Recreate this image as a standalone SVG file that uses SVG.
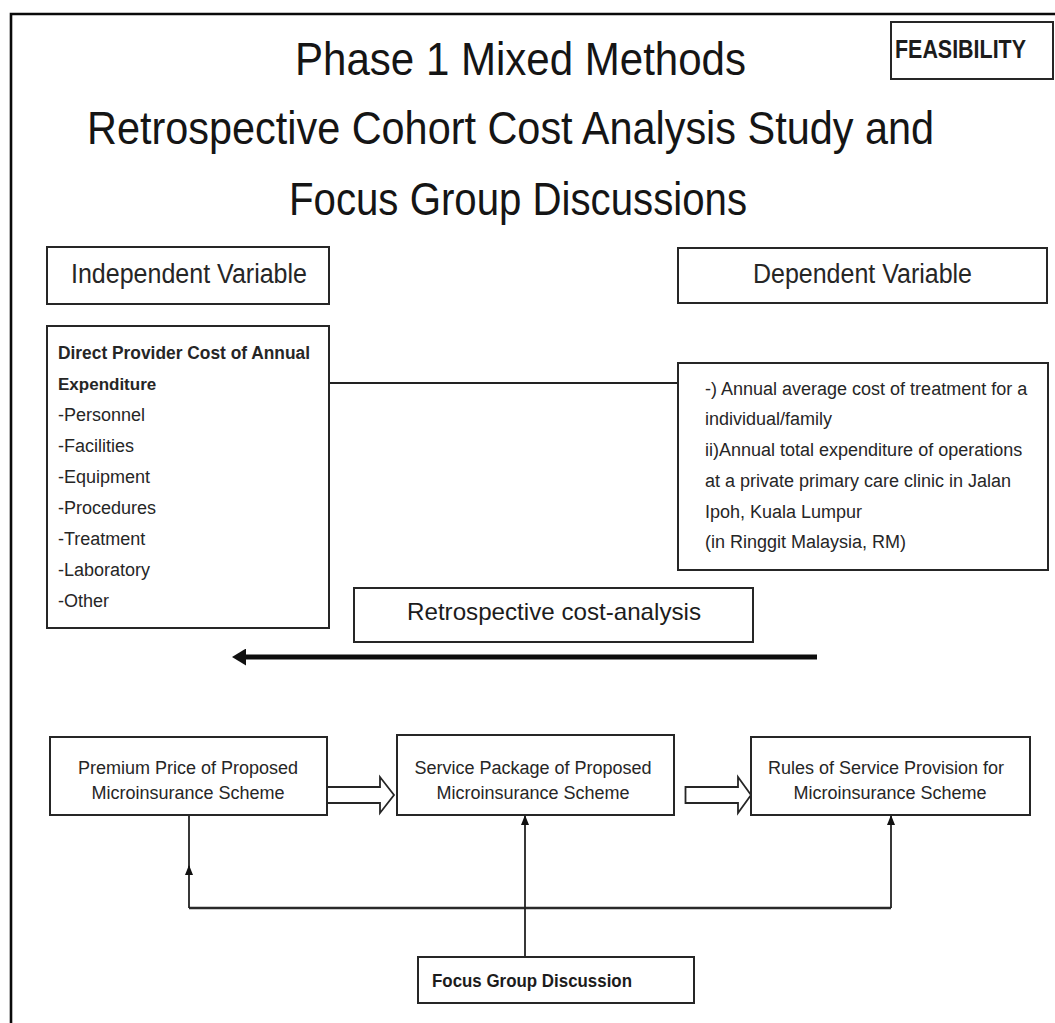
<svg xmlns="http://www.w3.org/2000/svg" width="1055" height="1023" viewBox="0 0 1055 1023">
  <style>
    text { font-family: "Liberation Sans", Arial, sans-serif; fill: #1c1c1c; }
    .title { font-size: 46px; fill: #151515; }
    .head { font-size: 27px; fill: #262626; }
    .body { font-size: 18px; fill: #262626; }
    .bold { font-weight: bold; }
    .mid { text-anchor: middle; }
    .box { fill: #ffffff; stroke: #262626; stroke-width: 2; }
    .wire { fill: none; stroke: #222222; stroke-width: 1.8; }
    .block { fill: #ffffff; stroke: #262626; stroke-width: 1.8; stroke-linejoin: miter; }
  </style>
  <defs>
    <marker id="bigHead" viewBox="0 0 14 17" refX="1" refY="8.5" markerWidth="14" markerHeight="17" markerUnits="userSpaceOnUse" orient="auto">
      <path d="M0,0 L14,8.5 L0,17 Z" fill="#111111"/>
    </marker>
    <marker id="smallHead" viewBox="0 0 10 8" refX="9" refY="4" markerWidth="10" markerHeight="8" markerUnits="userSpaceOnUse" orient="auto">
      <path d="M0,0 L10,4 L0,8 Z" fill="#111111"/>
    </marker>
  </defs>

  <rect x="0" y="0" width="1055" height="1023" fill="#ffffff"/>

  <!-- page frame -->
  <path d="M11,1023 V14 H1055" fill="none" stroke="#0a0a0a" stroke-width="2.6"/>

  <!-- heading -->
  <g id="heading">
    <text class="title" x="295" y="75" textLength="451" lengthAdjust="spacingAndGlyphs">Phase 1 Mixed Methods</text>
    <text class="title" x="87" y="144" textLength="847" lengthAdjust="spacingAndGlyphs">Retrospective Cohort Cost Analysis Study and</text>
    <text class="title" x="289" y="215" textLength="458" lengthAdjust="spacingAndGlyphs">Focus Group Discussions</text>
  </g>

  <g id="feasibility">
    <rect class="box" x="891" y="22" width="162" height="57"/>
    <text class="bold" x="895" y="58" font-size="25" textLength="131" lengthAdjust="spacingAndGlyphs" fill="#1e1e30">FEASIBILITY</text>
  </g>

  <!-- connectors -->
  <g id="connectors">
    <line class="wire" x1="329" y1="383" x2="678" y2="383"/>
    <line x1="817" y1="657" x2="245" y2="657" stroke="#0d0d0d" stroke-width="5" marker-end="url(#bigHead)"/>
    <!-- hollow block arrows between the scheme boxes -->
    <path class="block" d="M327,787 H380 V777 L394,795 L380,813 V803 H327"/>
    <path class="block" d="M685.5,787 H738 V777 L751,795 L738,813 V803 H685.5 Z"/>
    <!-- feedback from focus group -->
    <line x1="189" y1="908" x2="891" y2="908" stroke="#2a2a2a" stroke-width="2.6"/>
    <line class="wire" x1="189" y1="908" x2="189" y2="815"/>
    <line class="wire" x1="189" y1="875" x2="189" y2="866" marker-end="url(#smallHead)"/>
    <line class="wire" x1="525" y1="957" x2="525" y2="816" marker-end="url(#smallHead)"/>
    <line class="wire" x1="891" y1="908" x2="891" y2="816" marker-end="url(#smallHead)"/>
  </g>

  <g id="independent-variable">
    <rect class="box" x="47" y="247" width="282" height="57"/>
    <text class="head" x="71" y="283" textLength="236" lengthAdjust="spacingAndGlyphs">Independent Variable</text>
  </g>

  <g id="dependent-variable">
    <rect class="box" x="678" y="248" width="369" height="55"/>
    <text class="head" x="753" y="283" textLength="219" lengthAdjust="spacingAndGlyphs">Dependent Variable</text>
  </g>

  <g id="provider-cost">
    <rect class="box" x="47" y="326" width="282" height="302"/>
    <text class="body bold" x="58" y="359" font-size="17" textLength="252" lengthAdjust="spacingAndGlyphs">Direct Provider  Cost of Annual</text>
    <text class="body bold" x="58" y="390" style="font-size:17px">Expenditure</text>
    <text class="body" x="58" y="421">-Personnel</text>
    <text class="body" x="58" y="452">-Facilities</text>
    <text class="body" x="58" y="483">-Equipment</text>
    <text class="body" x="58" y="514">-Procedures</text>
    <text class="body" x="58" y="545">-Treatment</text>
    <text class="body" x="58" y="576">-Laboratory</text>
    <text class="body" x="58" y="607">-Other</text>
  </g>

  <g id="annual-cost">
    <rect class="box" x="678" y="363" width="370" height="207"/>
    <text class="body" x="705" y="395">-) Annual average cost of treatment for a</text>
    <text class="body" x="705" y="425">individual/family</text>
    <text class="body" x="705" y="456">ii)Annual total expenditure of operations</text>
    <text class="body" x="705" y="487">at a private primary care clinic in Jalan</text>
    <text class="body" x="705" y="518">Ipoh, Kuala Lumpur</text>
    <text class="body" x="705" y="548">(in Ringgit Malaysia, RM)</text>
  </g>

  <g id="retrospective">
    <rect class="box" x="354" y="588" width="399" height="54"/>
    <text x="407" y="620" font-size="24" fill="#262626" textLength="294" lengthAdjust="spacingAndGlyphs">Retrospective cost-analysis</text>
  </g>

  <g id="premium-price">
    <rect class="box" x="50" y="737" width="277" height="78"/>
    <text class="body mid" x="188" y="774">Premium  Price of Proposed</text>
    <text class="body mid" x="188" y="799">Microinsurance Scheme</text>
  </g>

  <g id="service-package">
    <rect class="box" x="397" y="735" width="277" height="80"/>
    <text class="body mid" x="533" y="774">Service Package of Proposed</text>
    <text class="body mid" x="533" y="799">Microinsurance Scheme</text>
  </g>

  <g id="service-rules">
    <rect class="box" x="751" y="737" width="279" height="78"/>
    <text class="body mid" x="886" y="774">Rules of Service Provision for</text>
    <text class="body mid" x="890" y="799">Microinsurance Scheme</text>
  </g>

  <g id="focus-group">
    <rect class="box" x="418" y="957" width="276" height="46"/>
    <text class="bold" x="432" y="987" font-size="18" fill="#262626" textLength="200" lengthAdjust="spacingAndGlyphs">Focus Group Discussion</text>
  </g>
</svg>
